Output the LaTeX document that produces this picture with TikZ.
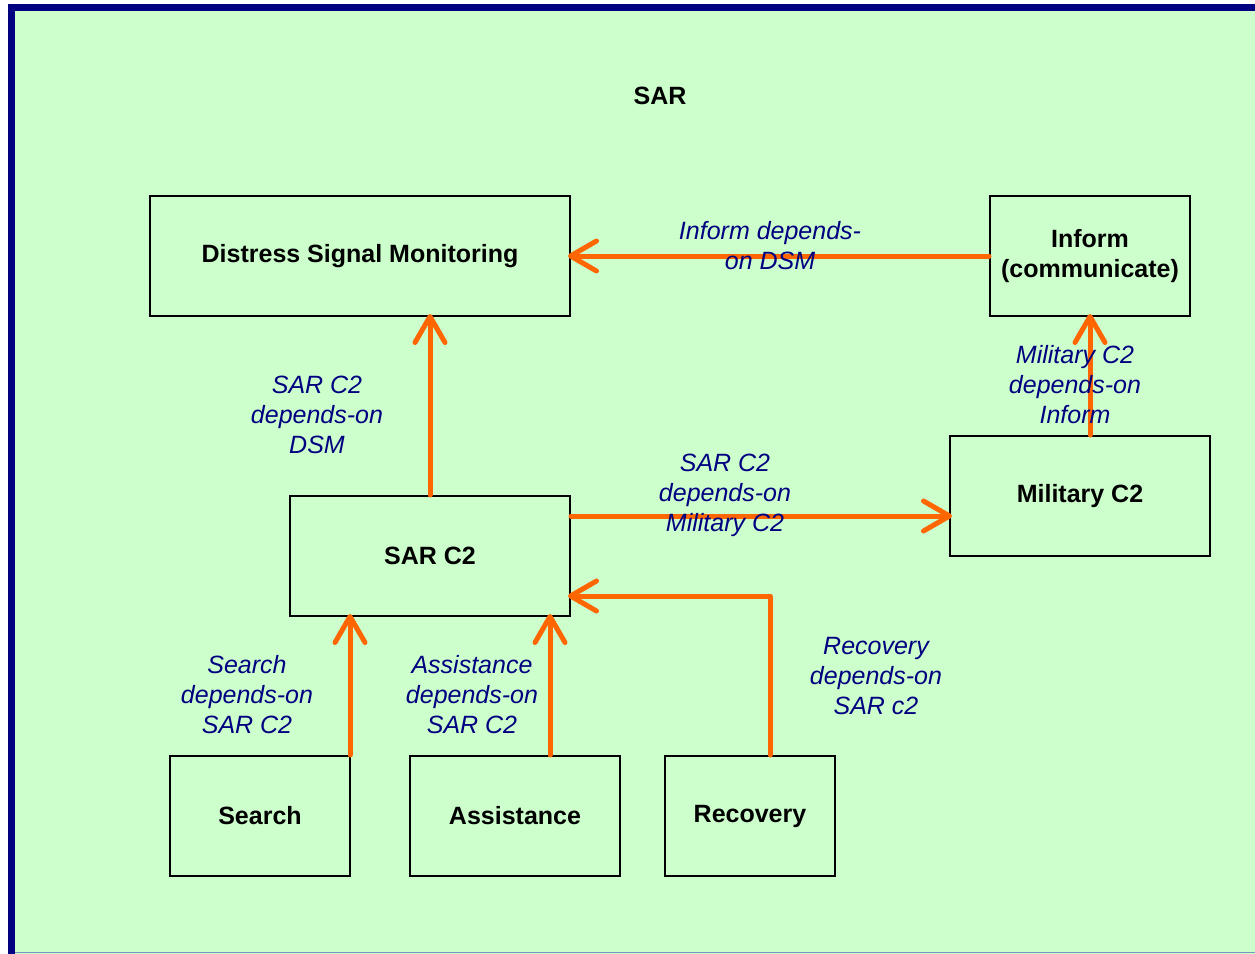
\documentclass[tikz,border=0pt]{standalone}
\usepackage{fontspec}
\setmainfont{Liberation Sans}
\usetikzlibrary{arrows.meta}
\definecolor{bgfill}{HTML}{CCFFCC}
\definecolor{navyb}{HTML}{000080}
\definecolor{arroworange}{HTML}{FF6600}
\definecolor{labelblue}{HTML}{000080}
\tikzset{
  box/.style={draw=black, line width=2pt, fill=bgfill, inner sep=0pt,
    font=\fontsize{25}{30}\selectfont\bfseries, align=center},
  dep/.style={draw=arroworange, line width=5pt, line cap=round, line join=round,
    -{Straight Barb[length=26pt,width=30pt,round]}, shorten >=-3pt},
  lbl/.style={text=labelblue, font=\fontsize{25}{30}\selectfont\itshape, align=center, inner sep=0pt}
}
\begin{document}
\begin{tikzpicture}[x=1pt,y=-1pt]
\useasboundingbox (0,0) rectangle (1255,953);
\clip (0,0) rectangle (1255,953);
\fill[bgfill] (11.5,7.5) rectangle (1270,960);
\draw[navyb, line width=7pt] (11.5,7.5) rectangle (1270,965);
\draw[color={rgb,255:red,120;green,150;blue,190}, line width=1.5pt] (15,952.5) -- (1255,952.5);

\node[font=\fontsize{25}{30}\selectfont\bfseries] (title) at (660,96) {SAR};

\node[box, minimum width=420pt, minimum height=120pt] (dsm) at (360,256) {Distress Signal Monitoring};
\node[box, minimum width=200pt, minimum height=120pt] (inform) at (1090,256) {Inform\\(communicate)};
\node[box, minimum width=280pt, minimum height=120pt] (sarc2) at (430,556) {SAR C2};
\node[box, minimum width=260pt, minimum height=120pt] (mil) at (1080,496) {Military C2};
\node[box, minimum width=180pt, minimum height=120pt] (search) at (260,816) {Search};
\node[box, minimum width=210pt, minimum height=120pt] (assist) at (515,816) {Assistance};
\node[box, minimum width=170pt, minimum height=120pt] (recov) at (750,816) {Recovery};

\draw[dep] (inform.west) -- (dsm.east);
\draw[dep] (sarc2.north) -- (sarc2.north |- dsm.south);
\draw[dep] (sarc2.east |- 0,516) -- (mil.west |- 0,516);
\draw[dep] (inform.south |- mil.north) -- (inform.south);
\draw[dep] (search.north -| 350,0) -- (sarc2.south -| 350,0);
\draw[dep] (assist.north -| 550,0) -- (sarc2.south -| 550,0);
\coordinate (rc) at (770,596);
\draw[dep] (recov.north -| rc) -- (rc) -- (sarc2.east |- rc);

\node[lbl] (l1) at (770,246) {Inform depends-\\on DSM};
\node[lbl] (l2) at (317,415) {SAR C2\\depends-on\\DSM};
\node[lbl] (l3) at (725,495) {SAR C2\\depends-on\\Military C2};
\node[lbl] (l4) at (1075,385) {Military C2\\depends-on\\Inform};
\node[lbl] (l5) at (247,695) {Search\\depends-on\\SAR C2};
\node[lbl] (l6) at (472,695) {Assistance\\depends-on\\SAR C2};
\node[lbl] (l7) at (876,676) {Recovery\\depends-on\\SAR c2};
\end{tikzpicture}
\end{document}
